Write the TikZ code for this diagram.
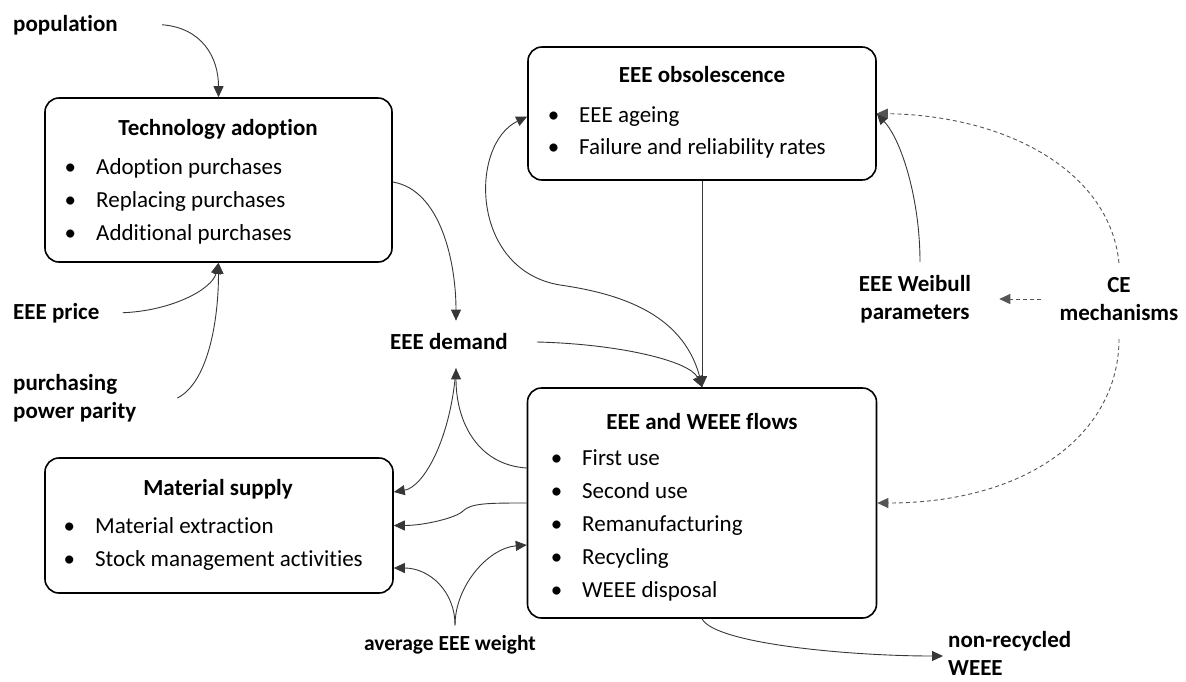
\documentclass[tikz,border=0pt]{standalone}
\usepackage{fontspec}
\setmainfont{Carlito}[Ligatures=NoCommon]
\usetikzlibrary{positioning, arrows.meta}
\definecolor{linegray}{RGB}{55,55,55}
\definecolor{dashgray}{RGB}{85,85,85}

\begin{document}
\begin{tikzpicture}[x=1pt, y=-1pt,
  box/.style={draw=black, line width=1.6pt, rounded corners=14pt, inner sep=0pt},
  title/.style={anchor=base, inner sep=0pt, font=\fontsize{23}{28}\selectfont\bfseries},
  item/.style={anchor=base west, inner sep=0pt, font=\fontsize{23}{28}\selectfont},
  lbl/.style={inner sep=0pt, align=center, font=\fontsize{23}{28}\selectfont\bfseries},
  flow/.style={draw=linegray, line width=0.9pt, -{Triangle[length=11pt,width=10pt]}},
  ceflow/.style={flow, draw=dashgray, dash pattern=on 4pt off 3pt},
]
  \useasboundingbox (0,0) rectangle (1186,681);

  % boxes
  \node[box, minimum width=347pt, minimum height=164pt] (tech) at (218.5,180) {};
  \node[box, minimum width=348pt, minimum height=133pt] (obs) at (702,113.5) {};
  \node[box, minimum width=348pt, minimum height=135pt] (mat) at (219,525.5) {};
  \node[box, minimum width=349pt, minimum height=230pt] (flows) at (702,503) {};

  \node[title] (techT) at (218,135) {Technology adoption};
  \node[title] (obsT) at (702,82) {EEE obsolescence};
  \node[title] (matT) at (218,495) {Material supply};
  \node[title] (flowsT) at (702,429) {EEE and WEEE flows};

  \foreach \t [count=\i] in {Adoption purchases, Replacing purchases, Additional purchases}
    \node[item] (tech\i) at (96,{141+33*\i}) {\llap{\textbullet\hspace{20pt}}\t};
  \foreach \t [count=\i] in {EEE ageing, Failure and reliability rates}
    \node[item] (obs\i) at (579,{90+32*\i}) {\llap{\textbullet\hspace{20pt}}\t};
  \foreach \t [count=\i] in {Material extraction, Stock management activities}
    \node[item] (mat\i) at (95,{500+33*\i}) {\llap{\textbullet\hspace{20pt}}\t};
  \foreach \t [count=\i] in {First use, Second use, Remanufacturing, Recycling, WEEE disposal}
    \node[item] (flows\i) at (582,{432+33*\i}) {\llap{\textbullet\hspace{20pt}}\t};

  % variables
  \node[lbl, anchor=base west] (pop) at (13,31) {population};
  \node[lbl, anchor=base west] (price) at (13,319) {EEE price};
  \node[lbl, anchor=west, align=left] (ppp) at (13,398) {purchasing\\power parity};
  \node[lbl] (demand) at (449,342) {EEE demand};
  \node[lbl, font=\fontsize{21.5}{26}\selectfont\bfseries] (avg) at (450,645) {average EEE weight};
  \node[lbl] (weibull) at (915,299) {EEE Weibull\\parameters};
  \node[lbl] (ce) at (1119,299) {CE\\mechanisms};
  \node[lbl, anchor=west, align=left] (nonrec) at (948,653) {non-recycled\\WEEE};

  % connectors
  \draw[flow] ([xshift=44pt]pop.east) .. controls +(40,3) and +(0,-40) .. (tech.north);
  \draw[flow] ([xshift=23pt]price.east) .. controls +(50,-2) and +(-6,26) .. (tech.south);
  \draw[flow] ([xshift=41pt]ppp.east) .. controls +(30,-15) and +(0,60) .. (tech.south);
  \draw[flow] ([yshift=-2pt]tech.east) .. controls +(48,8) and +(0,-58) .. ([xshift=7pt,yshift=13pt]demand.north);
  \draw[flow] ([xshift=29pt]demand.east) .. controls +(83,2) and +(-12,-26) .. (flows.north);
  \draw[flow] (obs.south) -- (flows.north);
  \draw[flow] (flows.north) .. controls +(-12,-68) and +(70,10) .. (560,285)
    .. controls +(-90,-15) and +(-58,28) .. ([yshift=-3pt]obs.west);
  \draw[flow] ([yshift=35pt]flows.west) .. controls +(-48,-3) and +(0,55) .. ([xshift=7pt,yshift=-18pt]demand.south);
  \draw[flow] ([xshift=7pt,yshift=-18pt]demand.south) .. controls +(-5,70) and +(30,-5) .. ([yshift=33.5pt]mat.east);
  \draw[flow] (flows.west) .. controls +(-38,0) and +(8,-8) .. (463,511)
    .. controls +(-7,7) and +(30,0) .. (mat.east);
  \draw[flow] ([xshift=5pt,yshift=10pt]avg.north) .. controls +(0,-35) and +(35,0) .. ([yshift=-42.5pt]mat.east);
  \draw[flow] ([xshift=5pt,yshift=10pt]avg.north) .. controls +(0,-40) and +(-38,3) .. ([yshift=-42pt]flows.west);
  \draw[flow] ([xshift=5pt,yshift=13pt]weibull.north) .. controls +(0,-62) and +(25,27) .. (obs.east);
  \draw[ceflow] ([yshift=14pt]ce.north) .. controls +(-9,-92) and +(130,2) .. (obs.east);
  \draw[ceflow] ([xshift=-18pt]ce.west) -- ([xshift=28pt]weibull.east);
  \draw[ceflow] ([yshift=-18pt]ce.south) .. controls +(0,95) and +(150,0) .. (flows.east);
  \draw[flow] (flows.south) .. controls +(13,25) and +(-93,0) .. ([xshift=-5pt,yshift=-3pt]nonrec.west);
\end{tikzpicture}
\end{document}
